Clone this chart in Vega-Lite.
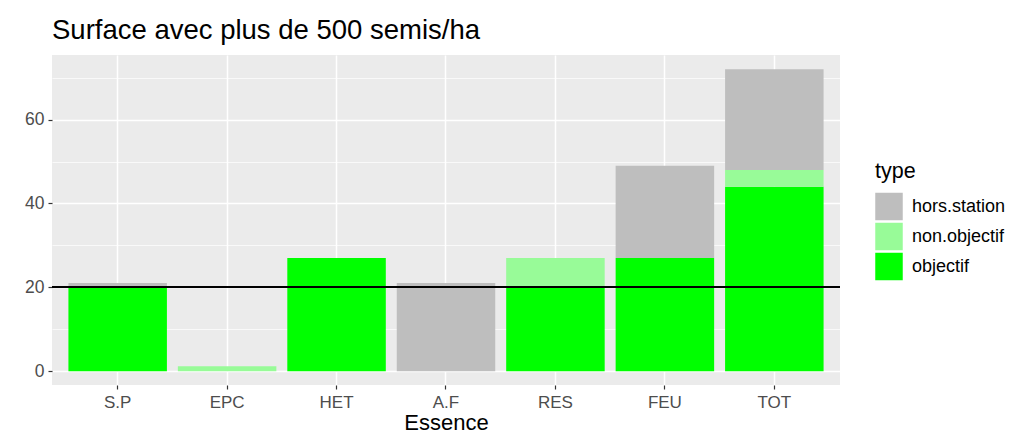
{
  "$schema": "https://vega.github.io/schema/vega-lite/v6.json",
  "autosize": "none",
  "width": 788,
  "height": 330,
  "padding": {"left": 52, "top": 55, "right": 172, "bottom": 58},
  "background": "white",
  "title": {
    "text": "Surface avec plus de 500 semis/ha",
    "anchor": "start",
    "frame": "group",
    "font": "Liberation Sans",
    "fontSize": 27.5,
    "fontWeight": "normal",
    "color": "#000000",
    "offset": 11
  },
  "config": {
    "view": {"fill": "#EBEBEB", "stroke": null},
    "font": "Liberation Sans"
  },
  "data": {
    "values": [
      {"Essence": "S.P", "type": "objectif", "surface": 20},
      {"Essence": "S.P", "type": "hors.station", "surface": 1},
      {"Essence": "EPC", "type": "non.objectif", "surface": 1.2},
      {"Essence": "HET", "type": "objectif", "surface": 27},
      {"Essence": "A.F", "type": "hors.station", "surface": 21},
      {"Essence": "RES", "type": "objectif", "surface": 20},
      {"Essence": "RES", "type": "non.objectif", "surface": 7},
      {"Essence": "FEU", "type": "objectif", "surface": 27},
      {"Essence": "FEU", "type": "hors.station", "surface": 22},
      {"Essence": "TOT", "type": "objectif", "surface": 44},
      {"Essence": "TOT", "type": "non.objectif", "surface": 4},
      {"Essence": "TOT", "type": "hors.station", "surface": 24}
    ]
  },
  "layer": [
    {
      "mark": {"type": "bar"},
      "encoding": {
        "x": {
          "field": "Essence",
          "type": "nominal",
          "sort": ["S.P", "EPC", "HET", "A.F", "RES", "FEU", "TOT"],
          "scale": {"paddingInner": 0.1, "paddingOuter": 0.15},
          "axis": {
            "title": "Essence",
            "titleFontSize": 22,
            "titleFontWeight": "normal",
            "titleColor": "#000000",
            "titlePadding": 2,
            "labelAngle": 0,
            "labelFontSize": 17,
            "labelColor": "#4D4D4D",
            "labelPadding": 5,
            "tickColor": "#333333",
            "tickSize": 4,
            "tickWidth": 1.2,
            "bandPosition": 0.5,
            "domain": false,
            "grid": true,
            "gridColor": "#FFFFFF",
            "gridWidth": 1.5
          }
        },
        "y": {
          "field": "surface",
          "type": "quantitative",
          "stack": "zero",
          "scale": {"domain": [-3.3, 75.4], "nice": false, "zero": false},
          "axis": {
            "title": null,
            "values": [0, 10, 20, 30, 40, 50, 60, 70],
            "labelExpr": "datum.value % 20 === 0 ? datum.label : ''",
            "labelFontSize": 17.5,
            "labelColor": "#4D4D4D",
            "labelPadding": 4,
            "tickColor": "#333333",
            "tickSize": 4,
            "tickWidth": 1.2,
            "tickOpacity": {"condition": {"test": "datum.value % 20 === 0", "value": 1}, "value": 0},
            "domain": false,
            "grid": true,
            "gridColor": "#FFFFFF",
            "gridWidth": {"condition": {"test": "datum.value % 20 === 0", "value": 1.5}, "value": 0.7}
          }
        },
        "color": {
          "field": "type",
          "type": "nominal",
          "scale": {
            "domain": ["hors.station", "non.objectif", "objectif"],
            "range": ["#BEBEBE", "#98FB98", "#00FF00"]
          },
          "legend": {
            "orient": "none",
            "legendX": 823,
            "legendY": 106,
            "title": "type",
            "titleFontSize": 21.5,
            "titleFontWeight": "normal",
            "titleColor": "#000000",
            "titlePadding": 10,
            "symbolType": "square",
            "symbolSize": 756,
            "symbolStrokeWidth": 0,
            "symbolOpacity": 1,
            "labelFontSize": 18,
            "labelColor": "#000000",
            "labelOffset": 9,
            "rowPadding": 2
          }
        },
        "order": {"field": "type", "sort": "descending"}
      }
    },
    {
      "mark": {"type": "rule", "color": "#000000", "strokeWidth": 1.5},
      "encoding": {"y": {"datum": 20}}
    }
  ]
}
